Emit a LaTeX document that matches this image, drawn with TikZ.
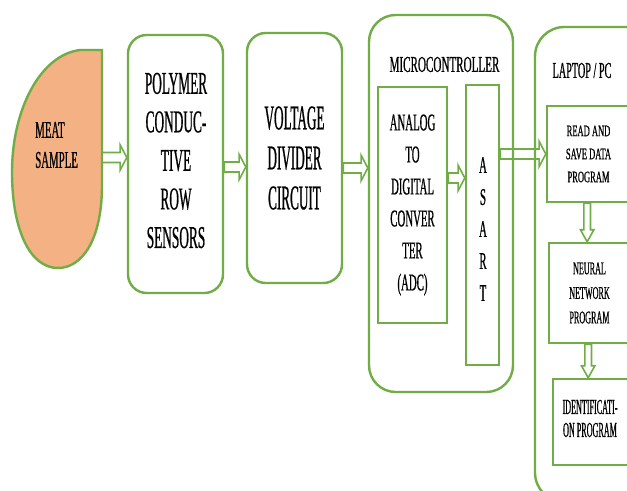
\documentclass[tikz,border=0pt]{standalone}
\usepackage{fontspec}
\newfontfamily\fsA[FakeStretch=0.42,FakeBold=0.6]{Liberation Serif}
\newfontfamily\fsB[FakeStretch=0.38,FakeBold=0.6]{Liberation Serif}
\newfontfamily\fsC[FakeStretch=0.45,FakeBold=0.6]{Liberation Serif}
\newfontfamily\fsD[FakeStretch=0.49,FakeBold=0.6]{Liberation Serif}
\newfontfamily\fsE[FakeStretch=0.53,FakeBold=0.6]{Liberation Serif}
\usetikzlibrary{calc}
\definecolor{gr}{HTML}{70AD47}
\definecolor{meatc}{HTML}{F4B183}
\tikzset{
  gbox/.style={draw=gr, line width=1.8pt, inner sep=0pt, align=center},
  txt/.style={inner sep=0pt, align=center, text=black},
  fmeat/.style={font=\fsC\fontsize{18}{22.5}\selectfont},
  fbig/.style={font=\fsA\fontsize{23.8}{28.9}\selectfont},
  fvolt/.style={font=\fsB\fontsize{26}{30}\selectfont},
  fmid/.style={font=\fsC\fontsize{18}{24}\selectfont},
  fmicro/.style={font=\fsD\fontsize{17}{20}\selectfont},
  flap/.style={font=\fsC\fontsize{17}{20}\selectfont},
  fread/.style={font=\fsE\fontsize{12}{17.25}\selectfont},
  fneur/.style={font=\fsC\fontsize{13.5}{18.4}\selectfont},
  fident/.style={font=\fsB\fontsize{16}{17.25}\selectfont},
  harrow/.style={draw=gr, fill=white, line width=1.2pt, line join=miter,
    to path={let \p1=(\tikztostart), \p2=(\tikztotarget) in
      (\x1,\y1+3.75pt) -- (\x2-5pt,\y1+3.75pt) -- (\x2-5pt,\y1+9.5pt) -- (\x2,\y1)
      -- (\x2-5pt,\y1-9.5pt) -- (\x2-5pt,\y1-3.75pt) -- (\x1,\y1-3.75pt) -- cycle}},
  varrow/.style={draw=gr, fill=white, line width=1.2pt, line join=miter,
    to path={let \p1=(\tikztostart), \p2=(\tikztotarget) in
      (\x1-2.5pt,\y1) -- (\x1-2.5pt,\y2+9pt) -- (\x1-5pt,\y2+9pt) -- (\x1,\y2)
      -- (\x1+5pt,\y2+9pt) -- (\x1+2.5pt,\y2+9pt) -- (\x1+2.5pt,\y1) -- cycle}}
}
\begin{document}
\begin{tikzpicture}[x=0.75pt,y=-0.75pt]
\useasboundingbox (0,0) rectangle (627,491);
\clip (0,0) rectangle (627,491);
\fill[white] (0,0) rectangle (627,491);

% meat sample
\draw[gr, line width=1.8pt, fill=meatc]
  (80,50) -- (102,50) -- (102,185)
  .. controls (102,240) and (82,268) .. (58,268)
  .. controls (30,268) and (12,230) .. (12,172)
  .. controls (12,110) and (40,55) .. (80,50) -- cycle;
\node[txt, fmeat, align=left, anchor=west] (meat) at (35,145) {MEAT\\SAMPLE};
\coordinate (meatR) at (102,157.5);

% containers
\node[gbox, rounded corners=20pt, minimum width=108pt, minimum height=282.75pt] (micro) at (441,203.5) {};
\node[txt, fmicro] (microlbl) at (444.5,64.5) {MICROCONTROLLER};
\node[gbox, rounded corners=22pt, minimum width=123.75pt, minimum height=356.25pt] (laptop) at (617.5,264.5) {};
\node[txt, flap] (laptoplbl) at (582,70.5) {LAPTOP / PC};

% boxes
\node[gbox, rounded corners=14pt, minimum width=71.25pt, minimum height=193.5pt] (poly) at (175.5,164) {};
\node[txt, fbig] (polyt) at (176,160.5) {POLYMER\\CONDUC-\\TIVE\\ROW\\SENSORS};
\node[gbox, rounded corners=14pt, minimum width=71.25pt, minimum height=187.5pt, fvolt] (volt) at (294.5,158) {VOLTAGE\\DIVIDER\\CIRCUIT};
\node[gbox, minimum width=51.75pt, minimum height=177pt, fmid] (adc) at (412.5,205) {ANALOG\\TO\\DIGITAL\\CONVER\\TER\\(ADC)};
\node[gbox, minimum width=24.75pt, minimum height=210pt] (asart) at (482.5,225) {};
\node[txt, fmid] (asartt) at (483,229) {A\\S\\A\\R\\T};
\node[gbox, minimum width=62.25pt, minimum height=72pt, fread] (read) at (588.5,154) {READ AND\\SAVE DATA\\PROGRAM};
\node[gbox, minimum width=60.75pt, minimum height=75pt, fneur] (neural) at (589.5,293) {NEURAL\\NETWORK\\PROGRAM};
\node[gbox, minimum width=57.75pt, minimum height=64.5pt] (ident) at (591.5,422) {};
\node[txt, fident] (identt) at (590,418.5) {IDENTIFICATI-\\ON PROGRAM};

% arrows
\draw[harrow] (meatR) to (poly.west);
\draw[harrow] ([yshift=-2.25pt]poly.east) to (volt.west);
\draw[harrow] ([yshift=-7.5pt]volt.east) to (micro.west);
\draw[harrow] ([yshift=20.25pt]adc.east) to (asart.west);
\draw[harrow, fill=none] (asart.east |- read.west) to (read.west);
\draw[varrow] ([xshift=-1pt]read.south) to (neural.north -| read.south);
\draw[varrow] ([xshift=-1pt]neural.south) to (ident.north -| neural.south);
\end{tikzpicture}
\end{document}
